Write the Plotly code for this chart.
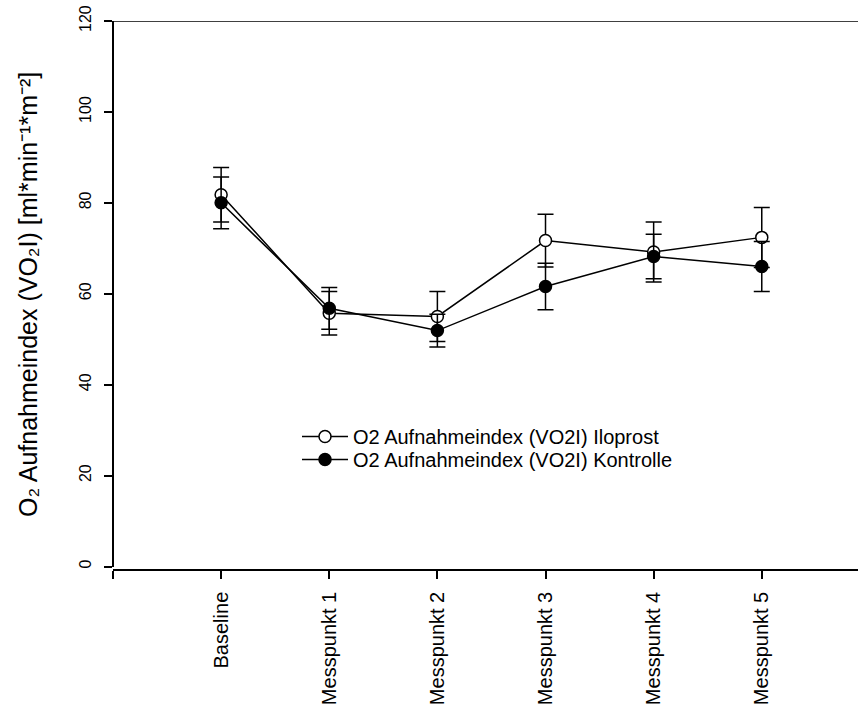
import plotly.graph_objects as go

# Measurement points (x positions 1..6 on the category axis)
categories = ["Baseline", "Messpunkt 1", "Messpunkt 2", "Messpunkt 3", "Messpunkt 4", "Messpunkt 5"]
x_pos = [1, 2, 3, 4, 5, 6]

# O2 uptake index, mean and error
iloprost_mean = [81.8, 55.7, 55.0, 71.7, 69.2, 72.4]
iloprost_err = [6.0, 4.8, 5.5, 5.8, 6.6, 6.6]
kontrolle_mean = [80.0, 56.8, 51.9, 61.6, 68.2, 66.0]
kontrolle_err = [5.7, 4.6, 3.6, 5.1, 4.9, 5.5]

name_ilo = "O2 Aufnahmeindex (VO2I) Iloprost"
name_kon = "O2 Aufnahmeindex (VO2I) Kontrolle"
y_title = "O₂ Aufnahmeindex (VO₂I) [ml*min⁻¹*m⁻²]"

y_ticks = [0, 20, 40, 60, 80, 100, 120]

FONT = "Liberation Sans, Arial, sans-serif"
W, H = 858, 712
L, R, T, B = 113, 0, 21, 142
plot_w = W - L - R
plot_h = H - T - B


def px_x(px):
    return (px - L) / plot_w


def px_y(px):
    return (H - B - px) / plot_h


fig = go.Figure()

fig.add_trace(go.Scatter(
    x=x_pos, y=iloprost_mean, name=name_ilo, mode="lines+markers", legend="legend",
    line=dict(color="black", width=1.5),
    marker=dict(symbol="circle", size=12, color="white", line=dict(color="black", width=1.5)),
    error_y=dict(type="data", array=iloprost_err, visible=True, color="black", thickness=1.5, width=8),
))
fig.add_trace(go.Scatter(
    x=x_pos, y=kontrolle_mean, name=name_kon, mode="lines+markers", legend="legend2",
    line=dict(color="black", width=1.5),
    marker=dict(symbol="circle", size=12, color="black", line=dict(color="black", width=1.5)),
    error_y=dict(type="data", array=kontrolle_err, visible=True, color="black", thickness=1.5, width=8),
))

legend_style = dict(
    xanchor="left", yanchor="top",
    bgcolor="rgba(0,0,0,0)", borderwidth=0,
    font=dict(family=FONT, size=20, color="black"),
    itemwidth=46,
)

fig.update_layout(
    width=W, height=H,
    margin=dict(l=L, r=R, t=T, b=B, pad=0),
    paper_bgcolor="white", plot_bgcolor="white",
    font=dict(family=FONT, color="black", size=16),
    showlegend=True,
    legend=dict(x=px_x(297), y=px_y(417), **legend_style),
    legend2=dict(x=px_x(297), y=px_y(440), **legend_style),
    xaxis=dict(
        range=[0, 6.89],
        tickmode="array",
        tickvals=x_pos,
        ticktext=categories,
        tickangle=-90,
        ticks="outside", ticklen=8, tickwidth=1.5, tickcolor="black",
        showline=True, linecolor="black", linewidth=1.5,
        showgrid=False, zeroline=False,
        anchor="free", position=0,
        tickfont=dict(family=FONT, size=20, color="black"),
        ticklabelstandoff=5,
        minor=dict(tickvals=[0], ticks="outside", ticklen=8, tickwidth=1.5, tickcolor="black"),
    ),
    yaxis=dict(
        range=[0, 120],
        domain=[px_y(566.5), 1],
        tickmode="array",
        tickvals=y_ticks,
        ticktext=[str(v) for v in y_ticks],
        tickangle=-90,
        ticks="outside", ticklen=8, tickwidth=1.5, tickcolor="black",
        showline=True, linecolor="black", linewidth=1.5,
        showgrid=False, zeroline=False,
        anchor="free", position=0,
        tickfont=dict(family=FONT, size=16, color="black"),
        ticklabelstandoff=7,
    ),
    shapes=[dict(type="line", xref="paper", yref="y", x0=0, x1=1, y0=120, y1=120,
                 line=dict(color="black", width=1.5))],
    annotations=[dict(
        text=y_title,
        textangle=-90, showarrow=False,
        xref="paper", yref="paper",
        x=px_x(28), xanchor="center",
        y=px_y(295), yanchor="middle",
        font=dict(family=FONT, size=25, color="black"),
    )],
)

fig.write_html("out.html")
